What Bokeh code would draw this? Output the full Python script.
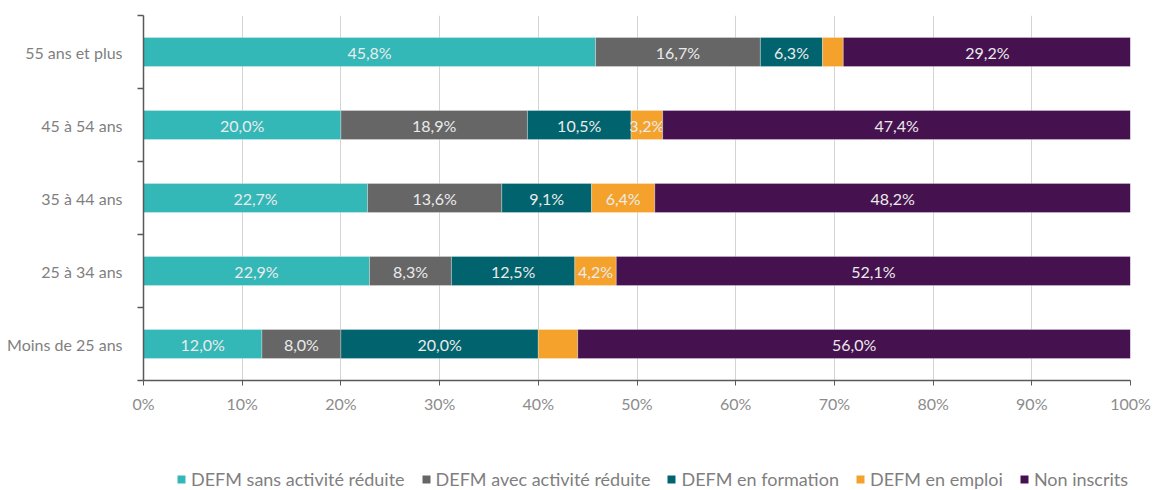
from bokeh.plotting import figure
from bokeh.layouts import column
from bokeh.models import (ColumnDataSource, FixedTicker, PrintfTickFormatter,
                          Legend, LegendItem, Range1d)
from bokeh.core.properties import value
from bokeh.embed import file_html
from bokeh.resources import INLINE
import numpy as np

# ---- data ----
categories = ["Moins de 25 ans", "25 à 34 ans", "35 à 44 ans", "45 à 54 ans", "55 ans et plus"]
series = ["DEFM sans activité réduite", "DEFM avec activité réduite",
          "DEFM en formation", "DEFM en emploi", "Non inscrits"]
sans_activite = [12.0, 22.9, 22.7, 20.0, 45.8]
avec_activite = [8.0, 8.3, 13.6, 18.9, 16.7]
en_formation = [20.0, 12.5, 9.1, 10.5, 6.3]
en_emploi = [4.0, 4.2, 6.4, 3.2, 2.1]
non_inscrits = [56.0, 52.1, 48.2, 47.4, 29.2]
show_label = [
    [True, True, True, True, True],
    [True, True, True, True, True],
    [True, True, True, True, True],
    [False, True, True, True, False],
    [True, True, True, True, True],
]
x_ticks = [0, 10, 20, 30, 40, 50, 60, 70, 80, 90, 100]

colors = ["#34B7B7", "#666666", "#01636D", "#F4A22B", "#45124F"]
FONT = "Lato"

values = [sans_activite, avec_activite, en_formation, en_emploi, non_inscrits]
ypos = [i + 0.5 for i in range(len(categories))]

p = figure(width=1156, height=440, output_backend="svg", toolbar_location=None,
           x_range=Range1d(0, 100), y_range=Range1d(0, len(categories)),
           min_border_left=143, min_border_right=26, min_border_top=15,
           min_border_bottom=60)
p.outline_line_color = None
p.background_fill_color = "white"

left = np.zeros(len(categories))
for si, (name, vals, col) in enumerate(zip(series, values, colors)):
    vals = np.array(vals)
    right = left + vals
    src = ColumnDataSource(dict(y=ypos, left=left, right=right,
                                mid=(left + right) / 2,
                                lab=[("%.1f%%" % v).replace(".", ",") if show_label[si][i] else ""
                                     for i, v in enumerate(vals)]))
    p.hbar(y="y", left="left", right="right", height=0.4, source=src,
           fill_color=col, line_color="white", line_alpha=0.5, line_width=0.6)
    p.text(x="mid", y="y", text="lab", source=src, text_align="center",
           text_baseline="middle", text_color="#EBEBEB", text_font=value(FONT),
           text_font_size="16px")
    left = right

# grid
p.ygrid.visible = False
p.xgrid.ticker = FixedTicker(ticks=x_ticks)
p.xgrid.grid_line_color = "#D4D4D4"
p.xgrid.grid_line_width = 1

# x axis
xa = p.xaxis[0]
xa.ticker = FixedTicker(ticks=x_ticks, minor_ticks=[])
xa.formatter = PrintfTickFormatter(format="%d%%")
xa.axis_line_color = "#595959"
xa.axis_line_width = 1.5
xa.major_tick_line_color = "#595959"
xa.major_tick_out = 5
xa.major_tick_in = 0
xa.minor_tick_line_color = None
xa.major_label_text_font = FONT
xa.major_label_text_font_size = "16px"
xa.major_label_text_color = "#8C8C8C"
xa.major_label_standoff = 8

# y axis
ya = p.yaxis[0]
ya.ticker = FixedTicker(ticks=ypos, minor_ticks=list(range(len(categories) + 1)))
ya.major_label_overrides = {y: c for y, c in zip(ypos, categories)}
ya.axis_line_color = "#595959"
ya.axis_line_width = 1.5
ya.major_tick_line_color = None
ya.major_tick_out = 0
ya.major_tick_in = 0
ya.minor_tick_line_color = "#595959"
ya.minor_tick_out = 6
ya.minor_tick_in = 0
ya.minor_tick_line_width = 1.5
ya.major_label_text_font = FONT
ya.major_label_text_font_size = "16px"
ya.major_label_text_color = "#7F7F7F"
ya.major_label_standoff = 15

# legend strip below the chart (swatch glyphs carry no drawable data)
lf = figure(width=1156, height=50, output_backend="svg", toolbar_location=None,
            x_axis_type=None, y_axis_type=None, x_range=Range1d(0, 1),
            y_range=Range1d(0, 1), min_border=0)
lf.outline_line_color = None
lf.xgrid.visible = False
lf.ygrid.visible = False
items = []
for name, col in zip(series, colors):
    r = lf.hbar(y=np.array([np.nan]), left=np.array([np.nan]), right=np.array([np.nan]),
                height=0.4, fill_color=col, line_color=None)
    items.append(LegendItem(label=name, renderers=[r]))

legend = Legend(items=items, orientation="horizontal", location=(33, 0),
                label_text_font=FONT, label_text_font_size="18px",
                label_text_color="#7F7F7F", glyph_width=10, glyph_height=10,
                label_standoff=5, spacing=16, padding=0, margin=0,
                border_line_color=None, background_fill_alpha=0)
lf.add_layout(legend, "center")

open("out.html", "w").write(file_html(column(p, lf, spacing=0), INLINE))
